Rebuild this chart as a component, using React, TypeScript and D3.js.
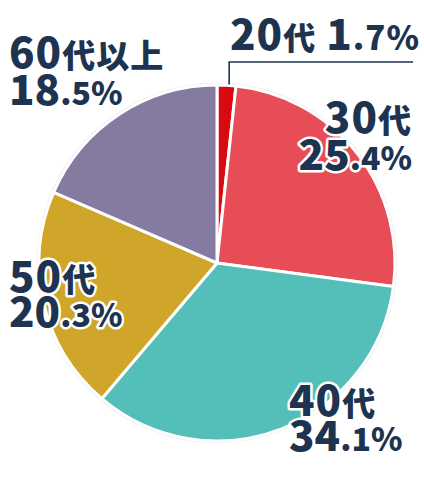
import React from "react";
import * as d3 from "d3";

// age groups and their shares (%)
const ageGroups = ["20代", "30代", "40代", "50代", "60代以上"];
const shares = [1.7, 25.4, 34.1, 20.3, 18.5];
const sliceColors = ["#d90a0f", "#e64d56", "#54bfb8", "#cfa62a", "#857a9f"];

// label placement per group: anchor, x, baselines of line 1 and 2
const labelLayout: Record<string, { anchor: string; x: number; y1: number; y2: number; oneLine?: boolean }> = {
  "20代": { anchor: "start", x: 230, y1: 50, y2: 50, oneLine: true },
  "30代": { anchor: "end", x: 412, y1: 133, y2: 170 },
  "40代": { anchor: "start", x: 289, y1: 416, y2: 451 },
  "50代": { anchor: "start", x: 9, y1: 292, y2: 327 },
  "60代以上": { anchor: "start", x: 9, y1: 68, y2: 105 },
};

const W = 424;
const H = 480;
const cx = 217;
const cy = 263;
const radius = 178;
const navy = "#1d3350";

const BIG = 42;
const MID = 33;
const SMALL = 32;

const App = () => {
  const data = ageGroups.map((g, i) => ({ group: g, value: shares[i], color: sliceColors[i] }));

  const pie = d3
    .pie<{ group: string; value: number; color: string }>()
    .sort(null)
    .value((d) => d.value);
  const arcs = pie(data);
  const arc = d3.arc<d3.PieArcDatum<{ group: string; value: number; color: string }>>().innerRadius(0).outerRadius(radius);

  // leader line for the thin 20代 slice
  const first = arcs[0];
  const midA = (first.startAngle + first.endAngle) / 2 + 0.015;
  const lx = Math.sin(midA) * radius;
  const ly = -Math.cos(midA) * radius;

  const textStyle = {
    fontFamily: "'Noto Sans CJK JP', 'Noto Sans', sans-serif",
    fontWeight: 900,
    fill: navy,
    stroke: "#fff",
    strokeWidth: 5,
    strokeLinejoin: "round" as const,
    paintOrder: "stroke",
  };

  const pct = (v: number) => {
    const [i, d] = v.toFixed(1).split(".");
    return [i, "." + d + "%"];
  };

  return (
    <svg width={W} height={H} style={{ position: "absolute", left: 0, top: 0, background: "#fff" }}>
      <g transform={`translate(${cx},${cy})`}>
        <circle r={radius + 1.5} fill="none" stroke="#ececec" strokeWidth={1.5} />
        {arcs.map((a) => (
          <path key={a.data.group} d={arc(a) as string} fill={a.data.color} stroke="#fff" strokeWidth={3} />
        ))}
        <polyline
          points={`${lx},${ly - 1} ${lx},${62 - cy} ${413 - cx},${62 - cy}`}
          fill="none"
          stroke={navy}
          strokeWidth={1.6}
        />
      </g>
      {arcs.map((a) => {
        const g = a.data.group;
        const L = labelLayout[g];
        const num = g.match(/^\d+/)![0];
        const rest = g.slice(num.length);
        const [ip, dp] = pct(a.data.value);
        if (L.oneLine) {
          return (
            <text key={g} x={L.x} y={L.y1} textAnchor={L.anchor} style={{ ...textStyle, letterSpacing: 1 }}>
              <tspan fontSize={BIG}>{num}</tspan>
              <tspan fontSize={MID - 1}>{rest}</tspan>
              <tspan fontSize={BIG} dx={10}>{ip}</tspan>
              <tspan fontSize={SMALL + 1}>{dp}</tspan>
            </text>
          );
        }
        return (
          <g key={g}>
            <text x={L.x} y={L.y1} textAnchor={L.anchor} style={{ ...textStyle, letterSpacing: 1 }}>
              <tspan fontSize={BIG}>{num}</tspan>
              <tspan fontSize={MID}>{rest}</tspan>
            </text>
            <text x={L.x} y={L.y2} textAnchor={L.anchor} style={textStyle}>
              <tspan fontSize={BIG}>{ip}</tspan>
              <tspan fontSize={SMALL}>{dp}</tspan>
            </text>
          </g>
        );
      })}
    </svg>
  );
};

export default App;
